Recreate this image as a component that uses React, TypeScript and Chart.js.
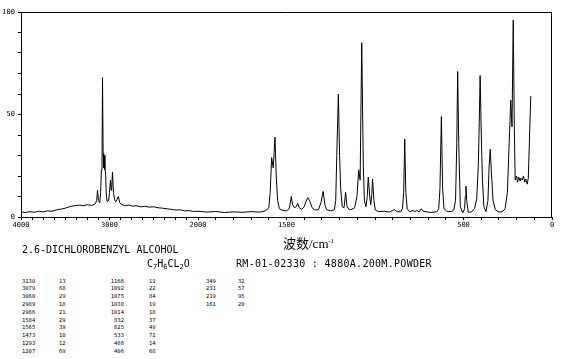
import React, { useEffect, useRef } from "react";
import { Chart, registerables } from "chart.js";

Chart.register(...registerables);

// Spectrum trace (wavenumber cm-1, relative intensity)
const wavenumbers = [
  4000, 3950, 3900, 3850, 3800, 3750, 3700, 3650, 3600, 3550, 3500, 3450, 3400, 3350, 3300, 3250, 3200,
  3160, 3145, 3135, 3125, 3110, 3100, 3092, 3085, 3079, 3072, 3065, 3060, 3052, 3045, 3035, 3025, 3010,
  3000, 2989, 2980, 2975, 2966, 2955, 2940, 2927, 2915, 2900, 2885, 2860, 2820, 2780, 2740, 2700, 2650,
  2600, 2550, 2500, 2450, 2400, 2350, 2300, 2250, 2200, 2150, 2100, 2050, 2000,
  1950, 1900, 1850, 1800, 1750, 1700, 1650, 1620, 1600, 1592, 1584, 1575, 1565, 1558, 1550, 1540, 1520,
  1500, 1485, 1478, 1473, 1466, 1456, 1445, 1437, 1428, 1414, 1400, 1390, 1380, 1370, 1355, 1340, 1320,
  1305, 1293, 1283, 1273, 1250, 1230, 1222, 1216, 1207, 1200, 1194, 1185, 1175, 1166, 1158, 1145, 1130,
  1115, 1102, 1092, 1084, 1075, 1066, 1060, 1051, 1044, 1038, 1030, 1024, 1018, 1014, 1006, 998, 980,
  950, 920, 900, 890, 875, 855, 845, 838, 832, 826, 818, 805, 785, 775, 765, 750, 738, 728, 700, 680,
  650, 640, 633, 625, 618, 610, 595, 570, 555, 545, 538, 533, 527, 518, 504, 494, 490, 486, 482, 473,
  455, 438, 425, 416, 411, 406, 400, 393, 385, 373, 362, 355, 349, 343, 333, 320, 300, 280, 265, 252,
  242, 233, 226, 219, 213, 208, 200, 195, 188, 180, 175, 168, 161, 154, 148, 140, 134, 128, 120,
];
const intensities = [
  2.5, 2.2, 2.6, 2.3, 2.8, 2.5, 3.0, 2.8, 3.5, 3.8, 4.3, 5.0, 5.5, 5.8, 5.5, 6.0, 5.6,
  6.5, 8, 13, 8, 7, 12, 23, 24, 68, 31, 24, 30, 23, 22, 10, 7.5, 8,
  12, 18, 13, 14, 22, 12, 8, 7.5, 8.5, 10, 7, 6, 5.5, 5.8, 5.3, 5.5, 5.0,
  5.2, 4.8, 5.0, 4.5, 4.3, 4.0, 3.7, 3.4, 3.5, 3.0, 3.1, 2.7, 2.8,
  2.4, 2.7, 2.2, 2.5, 2.3, 2.6, 2.4, 3.0, 4.5, 12, 29, 24, 39, 20, 8, 4, 3.2,
  3.0, 4, 7, 10, 6, 4.6, 5, 6.7, 4.5, 3.8, 5, 7.5, 9.4, 8, 4.5, 3.4, 3.6,
  7, 12.5, 6, 3.6, 3, 3.5, 8, 30, 60, 30, 14, 5, 4.5, 12, 5, 3.5, 3.8,
  4.5, 10, 23, 18, 85, 25, 8, 5, 10, 19.5, 10, 6, 11, 18.5, 8, 3.4, 2.6,
  2.8, 2.4, 3.2, 3.6, 2.6, 2.5, 4, 12, 38, 12, 4, 2.6, 3.2, 2.6, 3.2, 2.5, 4, 2.8, 2.4, 2.2,
  2.6, 4, 14, 49, 14, 4, 2.8, 2.6, 3.4, 8, 36, 71, 36, 5, 2, 4, 10, 15, 8, 2.3,
  2.5, 4, 9, 26, 46, 69, 42, 18, 5, 2.6, 8, 25, 33, 23, 8, 3.5, 2.4, 2.6, 4, 12,
  36, 57, 44, 96, 44, 18, 20, 17, 19.5, 17.5, 19, 18, 20, 17, 18.5, 16, 19, 36, 59,
];

// Axis ticks (wavenumber) and their labels
const xMajorTicks = [4000, 3000, 2000, 1500, 1000, 500, 0];
const xMajorLabels = ["4000", "3000", "2000", "1500", "", "500", "0"];
const yLabelValues = [0, 50, 100];

// Peak table text
const tableCol1Wn = ["3130", "3079", "3060", "2989", "2966", "1584", "1565", "1473", "1293", "1207"];
const tableCol1Int = ["13", "68", "29", "18", "21", "29", "39", "10", "12", "69"];
const tableCol2Wn = ["1166", "1092", "1075", "1038", "1014", "832", "625", "533", "486", "406"];
const tableCol2Int = ["11", "22", "84", "19", "18", "37", "49", "71", "14", "68"];
const tableCol3Wn = ["349", "231", "219", "161"];
const tableCol3Int = ["32", "57", "95", "20"];

// compressed axis: above 2000 cm-1 the scale is halved
const toU = (w: number) => (w <= 2000 ? w : 2000 + (w - 2000) / 2);
const fromU = (u: number) => (u <= 2000 ? u : 2000 + (u - 2000) * 2);

const minorTicksWn: number[] = [];
for (let w = 0; w <= 2000; w += 100) minorTicksWn.push(w);
for (let w = 2125; w <= 4000; w += 125) minorTicksWn.push(w);

const framePlugin = {
  id: "frame",
  afterDraw(chart: any) {
    const { ctx, chartArea } = chart;
    const l = Math.round(chartArea.left) + 0.5;
    const t = Math.round(chartArea.top) + 0.5;
    const r = Math.round(chartArea.right) - 0.5;
    const b = Math.round(chartArea.bottom) + 0.5;
    ctx.save();
    ctx.strokeStyle = "#000";
    ctx.lineWidth = 1;
    ctx.beginPath();
    ctx.moveTo(l, t);
    ctx.lineTo(r, t);
    ctx.lineTo(r, b);
    ctx.stroke();
    ctx.restore();
  },
};

const mono = "'DejaVu Sans Mono', monospace";

function ChartView() {
  const ref = useRef<HTMLCanvasElement>(null);
  useEffect(() => {
    if (!ref.current) return;
    const data = wavenumbers.map((w, i) => ({ x: toU(w), y: intensities[i] }));
    const chart = new Chart(ref.current, {
      type: "line",
      data: {
        datasets: [
          {
            data,
            borderColor: "#000",
            borderWidth: 1,
            pointRadius: 0,
            tension: 0,
            fill: false,
          },
        ],
      },
      options: {
        responsive: false,
        animation: false,
        events: [],
        layout: { padding: { left: 0, top: 12, right: 18, bottom: 3 } },
        plugins: { legend: { display: false }, tooltip: { enabled: false } },
        scales: {
          x: {
            type: "linear",
            reverse: true,
            min: 0,
            max: 3000,
            afterFit: (s: any) => {
              s.height = 20;
            },
            afterBuildTicks: (s: any) => {
              s.ticks = minorTicksWn.map((w) => ({ value: toU(w) }));
            },
            grid: { drawOnChartArea: false, tickLength: 3, color: "#000" },
            border: { color: "#000", width: 1 },
            ticks: {
              autoSkip: false,
              maxRotation: 0,
              padding: 1,
              color: "#000",
              font: { family: mono, size: 7 },
              callback: (v: any) => {
                const w = Math.round(fromU(Number(v)));
                const i = xMajorTicks.indexOf(w);
                return i >= 0 ? xMajorLabels[i] : "";
              },
            },
          },
          y: {
            min: 0,
            max: 100,
            afterFit: (s: any) => {
              s.width = 21;
            },
            grid: { drawOnChartArea: false, tickLength: 3, color: "#000" },
            border: { color: "#000", width: 1 },
            ticks: {
              stepSize: 10,
              padding: 3,
              color: "#000",
              font: { family: mono, size: 7 },
              callback: (v: any) => (yLabelValues.includes(Number(v)) ? String(v) : ""),
            },
          },
        },
      },
      plugins: [framePlugin],
    });
    return () => chart.destroy();
  }, []);
  return <canvas ref={ref} width={570} height={240} style={{ position: "absolute", left: 0, top: 0 }} />;
}

const colStyle = (left: number, align: "left" | "right", width: number): React.CSSProperties => ({
  position: "absolute",
  left,
  top: 277.6,
  width,
  textAlign: align,
  fontFamily: mono,
  fontSize: "5.5px",
  lineHeight: "7.8px",
  color: "#000",
  whiteSpace: "pre",
});

function Col({ items, left, align, width }: { items: string[]; left: number; align: "left" | "right"; width: number }) {
  return (
    <div style={colStyle(left, align, width)}>
      {items.map((s, i) => (
        <div key={i}>{s}</div>
      ))}
    </div>
  );
}

export default function App() {
  const txt: React.CSSProperties = {
    position: "absolute",
    fontFamily: mono,
    fontSize: "10px",
    lineHeight: "10px",
    color: "#000",
    whiteSpace: "pre",
  };
  return (
    <div style={{ position: "absolute", left: 0, top: 0, width: 570, height: 359, background: "#fff", overflow: "hidden" }}>
      <ChartView />
      <div
        style={{
          position: "absolute",
          left: 283,
          top: 234,
          fontFamily: "'Liberation Serif', 'Noto Sans CJK SC', serif",
          fontSize: "13px",
          lineHeight: "14px",
          color: "#000",
          whiteSpace: "pre",
        }}
      >
        波数/cm<sup style={{ fontSize: "7px", verticalAlign: "5px" }}>-1</sup>
      </div>
      <div style={{ ...txt, left: 22, top: 245 }}>2.6-DICHLOROBENZYL ALCOHOL</div>
      <div style={{ ...txt, left: 147, top: 258.5 }}>
        C<sub style={{ fontSize: "7px", verticalAlign: "-2px" }}>7</sub>H
        <sub style={{ fontSize: "7px", verticalAlign: "-2px" }}>6</sub>CL
        <sub style={{ fontSize: "7px", verticalAlign: "-2px" }}>2</sub>O
      </div>
      <div style={{ ...txt, left: 236, top: 258.5, letterSpacing: "0.3px" }}>RM-01-02330 : 4880A.200M.POWDER</div>
      <Col items={tableCol1Wn} left={22} align="left" width={20} />
      <Col items={tableCol1Int} left={59} align="left" width={20} />
      <Col items={tableCol2Wn} left={110} align="right" width={14} />
      <Col items={tableCol2Int} left={149} align="left" width={20} />
      <Col items={tableCol3Wn} left={206} align="left" width={20} />
      <Col items={tableCol3Int} left={238} align="left" width={20} />
    </div>
  );
}
